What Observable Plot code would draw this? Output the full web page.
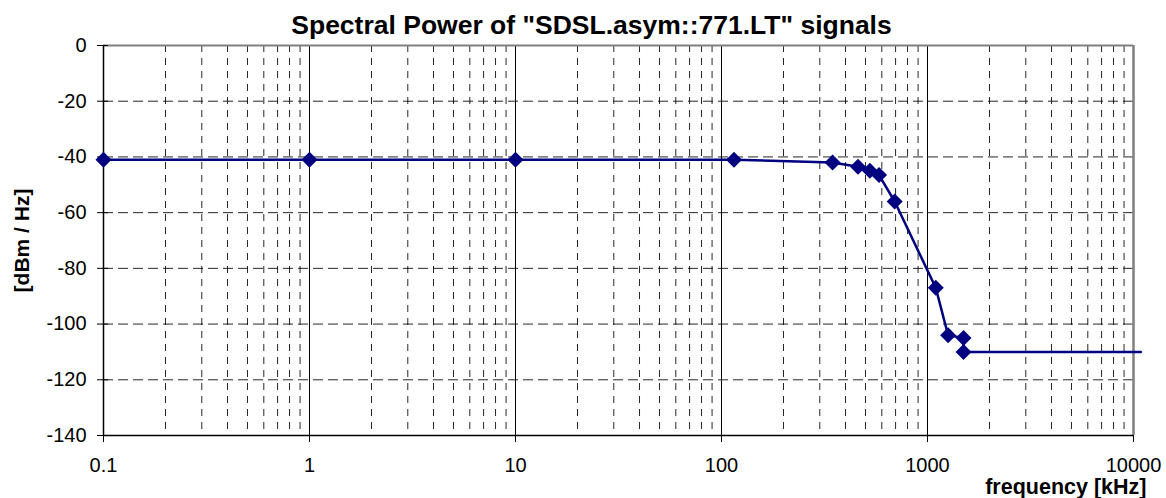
<!DOCTYPE html>
<html>
<head>
<meta charset="utf-8">
<script src="https://cdn.jsdelivr.net/npm/d3@7"></script>
<script src="https://cdn.jsdelivr.net/npm/@observablehq/plot@0.6"></script>
<style>
  html, body { margin: 0; padding: 0; background: #ffffff; }
  #chart svg { display: block; }
</style>
</head>
<body>
<div id="chart"></div>
<script>
// ---- Data ----
const chartTitle = 'Spectral Power of "SDSL.asym::771.LT" signals';
const yAxisLabel = "[dBm / Hz]";
const xAxisLabel = "frequency [kHz]";

// series: frequency in kHz, power in dBm/Hz (last point = line end, no marker)
const freqKHz    = [0.1, 1, 10, 115, 346, 460, 525, 582, 693, 1097, 1259, 1496, 1496, 10850];
const powerDbmHz = [-41, -41, -41, -41, -42, -43.5, -45, -46.5, -56, -87, -104, -105, -110, -110];
const showMarker = [true, true, true, true, true, true, true, true, true, true, true, true, true, false];

const xTickValues = [0.1, 1, 10, 100, 1000, 10000];
const xTickLabels = ["0.1", "1", "10", "100", "1000", "10000"];
const yTickValues = [0, -20, -40, -60, -80, -100, -120, -140];
const yTickLabels = ["0", "-20", "-40", "-60", "-80", "-100", "-120", "-140"];

// ---- Derived tables ----
const points = freqKHz.map((f, i) => ({f, p: powerDbmHz[i], m: showMarker[i]}));
const majorX = xTickValues.slice(1, -1);
const minorX = [];
for (const dec of xTickValues.slice(0, -1)) for (let k = 2; k <= 9; k++) minorX.push(+(dec * k).toPrecision(3));
const majorY = yTickValues.slice(1, -1);
const xLab = new Map(xTickValues.map((v, i) => [v, xTickLabels[i]]));
const yLab = new Map(yTickValues.map((v, i) => [v, yTickLabels[i]]));

const navy = "#000080";

const chart = Plot.plot({
  width: 1166,
  height: 498,
  marginLeft: 103,
  marginRight: 33,
  marginTop: 45,
  marginBottom: 63,
  style: {fontFamily: "'Liberation Sans', Arial, sans-serif", fontSize: "20px", color: "#000", background: "#fff"},
  x: {type: "log", domain: [0.1, 10000]},
  y: {domain: [-140, 0]},
  marks: [
    // gridlines
    Plot.ruleY(majorY, {stroke: "#000", strokeWidth: 1, strokeDasharray: "10,5", strokeOpacity: 0.85}),
    Plot.ruleX(minorX, {stroke: "#000", strokeWidth: 1, strokeDasharray: "7,6", strokeOpacity: 0.85}),
    Plot.ruleX(majorX, {stroke: "#000", strokeWidth: 1}),
    // frame
    Plot.ruleY([0], {stroke: "#808080", strokeWidth: 2}),
    Plot.ruleX([10000], {stroke: "#808080", strokeWidth: 2.5}),
    Plot.ruleX([0.1], {stroke: "#000", strokeWidth: 1.5}),
    Plot.ruleY([-140], {stroke: "#000", strokeWidth: 1.5}),
    // axes
    Plot.axisX(xTickValues, {tickFormat: d => xLab.get(d), tickSize: 7, tickPadding: 15, fontSize: 20, label: null}),
    Plot.axisY(yTickValues, {tickFormat: d => yLab.get(d), tickSize: 11, dx: 5, tickPadding: 11, fontSize: 20, label: null}),
    // data
    Plot.line(points, {x: "f", y: "p", stroke: navy, strokeWidth: 2.5}),
    Plot.dot(points.filter(d => d.m), {x: "f", y: "p", symbol: "diamond2", r: 7.2, fill: navy, stroke: "none"}),
    // titles
    Plot.text([chartTitle], {frameAnchor: "top", lineAnchor: "top", dx: -27, dy: -30, fontSize: 26.5, fontWeight: "bold", fill: "#000"}),
    Plot.text([yAxisLabel], {frameAnchor: "left", textAnchor: "middle", rotate: -90, dx: -81, fontSize: 21, fontWeight: "bold", fill: "#000"}),
    Plot.text([xAxisLabel], {frameAnchor: "bottom-right", lineAnchor: "bottom", textAnchor: "end", dx: 13, dy: 58, fontSize: 21.5, fontWeight: "bold", fill: "#000"})
  ]
});
document.getElementById("chart").appendChild(chart);
</script>
</body>
</html>
